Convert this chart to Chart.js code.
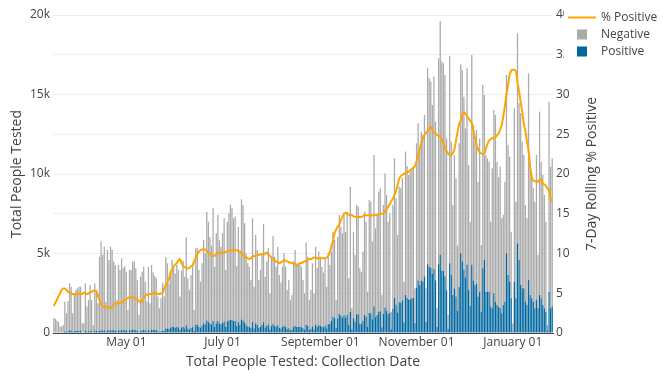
<!DOCTYPE html>
<html>
<head>
<meta charset="utf-8">
<title>Total People Tested</title>
<script src="https://cdn.jsdelivr.net/npm/chart.js@4.4.1/dist/chart.umd.min.js"></script>
<style>
    html, body { margin: 0; padding: 0; background: #ffffff; }
    #wrap { width: 663px; height: 373px; }
</style>
</head>
<body>
<div id="wrap"><canvas id="testsChart" width="663" height="373"></canvas></div>
<script>
// Daily tests by collection date, first day of the series
const startDate = '2020-03-16';

// Total people tested per day (top of each stacked bar)
const totalTested = [
    // Mar 16 - 31
    920, 900, 780, 700, 420, 400, 500, 1970, 1240, 2000, 3120, 2910, 1240, 2500, 2700, 2810,
    // Apr
    2910, 2910, 610, 610, 3120, 1660, 2080, 3020, 2080, 510, 3120, 2600, 1870, 4800, 5750,
    4900, 5430, 1970, 5220, 4590, 5430, 5220, 4490, 4280, 2080, 4280, 3960, 4700, 4070, 4200,
    // May
    3860, 1450, 3960, 3960, 4490, 4490, 4070, 3330, 1130, 3540, 3860, 4170, 3230, 1970, 4170, 1870,
    4280, 3800, 3590, 3440, 2290, 1550, 2180, 3170, 2290, 4760, 4380, 3120, 3860, 4590, 4070,
    // Jun
    3750, 4280, 3960, 2290, 3900, 4550, 3540, 6020, 3440, 2710, 3650, 4380, 1450, 5330, 5330,
    3960, 3230, 4380, 5850, 5010, 7630, 7000, 6020, 5500, 7840, 4170, 6270, 7420, 5850, 5430,
    // Jul
    6270, 7210, 3960, 7000, 7530, 8050, 7840, 7210, 7320, 4200, 6690, 5200, 8410, 8050, 6900, 5000,
    4380, 4170, 3330, 7210, 2910, 6160, 5220, 3330, 3960, 5010, 6860, 3540, 4490, 5330, 2490,
    // Aug
    4800, 6100, 4800, 4170, 5430, 3650, 3170, 4170, 5010, 4170, 2700, 3330, 2080, 2390, 4500, 5220,
    4380, 4280, 4380, 4170, 3330, 2490, 5680, 4800, 2080, 2700, 4380, 2490, 5430, 4070, 5120,
    // Sep
    4800, 4170, 3800, 4700, 2910, 5010, 4280, 5120, 6370, 5850, 2080, 6060, 7420, 6690, 6270,
    7420, 6370, 7630, 3440, 9200, 1550, 6370, 4910, 8050, 7950, 4070, 3860, 5120, 7630, 7000,
    // Oct
    2600, 8370, 8260, 5750, 11200, 6580, 7500, 8890, 9100, 2390, 8050, 10040, 8680, 7000, 7530, 1340,
    8050, 10990, 8470, 6160, 9200, 9100, 9730, 3230, 11410, 10500, 9940, 10150, 10360, 10460, 2810,
    // Nov
    11930, 13190, 11620, 12660, 12450, 13710, 2810, 16650, 16020, 15810, 14340, 16120, 13290, 1550, 17280,
    19630, 17070, 16960, 16230, 12240, 1130, 17400, 12040, 8050, 11200, 9730, 5500, 11930, 16900, 16540,
    // Dec
    14860, 12870, 16650, 10560, 7000, 17490, 13080, 12040, 12770, 9500, 12240, 5540, 15610, 14970, 11200, 10980,
    10770, 7000, 10360, 14020, 13710, 10770, 9800, 10460, 7210, 7420, 9520, 16230, 11820, 11090, 6370,
    // Jan 1 - 26
    600, 14130, 8260, 18850, 14450, 13820, 12040, 11200, 8050, 7210, 16330, 10360, 9940,
    9100, 8260, 11200, 4910, 13920, 10770, 9940, 8680, 7000, 500, 14550, 10460, 10980
];

// Positive results per day (blue part of each bar)
const positive = [
    // Mar 16 - 31
    30, 35, 35, 35, 25, 25, 30, 110, 70, 110, 160, 150, 60, 120, 130, 140,
    // Apr
    145, 140, 30, 30, 155, 80, 105, 155, 110, 27, 165, 135, 90, 150, 170,
    150, 170, 60, 170, 150, 170, 180, 170, 160, 80, 165, 155, 180, 170, 180,
    // May
    170, 65, 180, 180, 200, 200, 175, 140, 45, 140, 155, 185, 150, 95, 205, 90,
    210, 190, 185, 170, 110, 75, 110, 160, 130, 290, 280, 250, 330, 400, 370,
    // Jun
    320, 380, 360, 210, 340, 380, 290, 490, 280, 220, 310, 370, 130, 510, 530,
    400, 340, 460, 610, 530, 790, 710, 600, 540, 760, 400, 620, 750, 590, 550,
    // Jul
    630, 730, 400, 720, 780, 840, 820, 750, 760, 440, 690, 530, 850, 790, 660, 480,
    410, 390, 310, 690, 280, 600, 510, 330, 390, 500, 680, 350, 450, 530, 240,
    // Aug
    460, 570, 440, 380, 480, 320, 280, 380, 460, 380, 240, 300, 180, 210, 400, 450,
    370, 370, 390, 370, 300, 220, 520, 440, 190, 250, 410, 240, 520, 380, 480,
    // Sep
    450, 390, 360, 450, 280, 550, 560, 770, 1020, 940, 310, 910, 1190, 1070, 970,
    1110, 960, 1140, 500, 1340, 230, 930, 720, 1180, 1180, 600, 570, 760, 1130, 1040,
    // Oct
    390, 1260, 1240, 860, 1680, 990, 1130, 1340, 1370, 360, 1210, 1610, 1390, 1190, 1280, 240,
    1530, 2200, 1780, 1290, 1930, 1910, 2040, 680, 2400, 2200, 2090, 2130, 2180, 2200, 620,
    // Nov
    2860, 3300, 3000, 3290, 3240, 3560, 700, 4330, 4160, 4110, 3730, 4030, 3320, 390, 4320,
    4910, 3920, 3900, 3570, 2690, 250, 4380, 3650, 2390, 2800, 2300, 1400, 2900, 5010, 4500,
    // Dec
    4000, 3500, 4300, 2700, 1700, 4300, 3300, 3000, 3100, 2300, 2600, 1340, 4070, 4590, 2600, 2600,
    2600, 1660, 1550, 2500, 1970, 1760, 1650, 1550, 1240, 1760, 1970, 5010, 3650, 3230, 2180,
    // Jan 1 - 26
    100, 3230, 2180, 5640, 4590, 3020, 2810, 2810, 1970, 1760, 3330, 2390, 2180,
    1970, 1550, 2070, 1550, 2390, 2180, 1760, 1550, 1340, 150, 2600, 1550, 1660
];

// 7-day rolling % positive (right axis)
const pctPositive = [
    // Mar 16 - 31
    3.4, 3.8, 4.2, 4.6, 5.0, 5.4, 5.6, 5.6, 5.4, 5.2, 5.1, 5.0, 4.9, 4.9, 4.9, 4.9,
    // Apr
    5.0, 4.9, 4.9, 5.1, 5.0, 4.9, 5.0, 5.1, 5.2, 5.3, 5.3, 5.3, 4.7, 4.1, 3.6,
    3.4, 3.3, 3.3, 3.3, 3.2, 3.1, 3.3, 3.6, 3.7, 3.7, 3.8, 3.8, 3.8, 4.0, 4.2,
    // May
    4.3, 4.4, 4.5, 4.5, 4.5, 4.4, 4.3, 4.2, 4.0, 3.9, 4.0, 4.4, 4.7, 4.8, 4.9, 4.9,
    4.9, 5.0, 5.1, 5.0, 4.9, 4.9, 5.0, 5.0, 5.6, 6.0, 6.3, 6.8, 7.6, 8.0, 8.4,
    // Jun
    8.6, 8.8, 9.1, 9.3, 8.8, 8.4, 8.3, 8.2, 8.1, 8.2, 8.4, 8.5, 9.0, 9.5, 9.9,
    10.2, 10.4, 10.5, 10.5, 10.5, 10.3, 10.1, 10.0, 9.8, 9.7, 9.7, 9.9, 10.1, 10.1, 10.1,
    // Jul
    10.1, 10.1, 10.2, 10.3, 10.35, 10.4, 10.4, 10.4, 10.4, 10.4, 10.3, 10.2, 10.1, 9.8, 9.6, 9.5,
    9.4, 9.3, 9.4, 9.6, 9.7, 9.7, 9.8, 9.8, 9.9, 9.9, 9.9, 10.0, 10.1, 9.9, 9.7,
    // Aug
    9.5, 9.3, 9.1, 9.0, 8.9, 8.8, 8.9, 9.0, 9.2, 9.1, 9.0, 8.9, 8.85, 8.8, 8.8, 8.7,
    8.4, 8.6, 8.8, 8.8, 8.9, 9.0, 9.1, 9.2, 9.3, 9.3, 9.4, 9.5, 9.5, 9.4, 9.4,
    // Sep
    9.4, 9.4, 9.4, 9.4, 9.5, 9.7, 10.2, 10.9, 11.6, 12.5, 13.0, 13.4, 13.6, 14.2, 14.6,
    15.0, 15.1, 15.0, 14.9, 14.8, 14.8, 14.7, 14.6, 14.6, 14.6, 14.6, 14.6, 14.7, 14.8, 14.8,
    // Oct
    14.8, 14.8, 14.75, 14.8, 14.8, 14.85, 14.85, 14.9, 15.0, 15.0, 15.1, 15.3, 15.6, 15.9, 16.2, 16.6,
    16.9, 17.4, 17.9, 18.6, 19.4, 19.7, 19.9, 20.0, 20.1, 20.2, 20.3, 20.5, 20.6, 20.8, 21.0,
    // Nov
    21.6, 22.3, 23.2, 23.9, 24.5, 24.9, 25.2, 25.4, 25.7, 25.95, 25.6, 25.3, 25.1, 24.9, 24.8,
    24.7, 24.3, 23.9, 23.3, 22.9, 22.6, 22.4, 22.4, 22.6, 23.1, 24.2, 25.3, 26.3, 26.7, 27.5,
    // Dec
    27.8, 27.6, 27.3, 27.0, 26.7, 26.4, 25.5, 24.6, 23.6, 23.1, 22.7, 22.6, 22.5, 22.6, 23.2, 23.8,
    24.2, 24.4, 24.5, 24.6, 24.6, 24.9, 25.1, 25.6, 26.2, 27.3, 28.5, 30.0, 31.2, 32.5, 33.0,
    // Jan 1 - 26
    33.1, 33.1, 32.9, 31.5, 30.4, 29.0, 27.8, 26.3, 25.4, 24.1, 22.9, 21.0, 19.6,
    19.2, 19.1, 19.1, 19.0, 19.3, 19.3, 18.8, 18.7, 18.5, 18.2, 17.9, 16.9, 16.6
];

// Axis ticks shown on the date axis
const tickDates = ['2020-05-01', '2020-07-01', '2020-09-01', '2020-11-01', '2021-01-01'];
const tickLabels = ['May 01', 'July 01', 'September 01', 'November 01', 'January 01'];

const textColor = '#444444';
const fontFamily = '"Open Sans", "DejaVu Sans", sans-serif';

// Build one label per day from the start date
function buildDates(start, count) {
    const out = [];
    const d = new Date(start + 'T00:00:00Z');
    for (let i = 0; i < count; i++) {
        out.push(d.toISOString().slice(0, 10));
        d.setUTCDate(d.getUTCDate() + 1);
    }
    return out;
}

const dates = buildDates(startDate, totalTested.length);
const tickIndexes = tickDates.map(t => dates.indexOf(t));
// negative part of the stack = total minus positive
const negative = totalTested.map((t, i) => t - positive[i]);

// Right axis title and legend, drawn over the chart like the original
const overlayPlugin = {
    id: 'overlay',
    afterDraw: function(chart) {
        const { ctx, chartArea } = chart;

        ctx.save();
        ctx.translate(chartArea.right + 39, (chartArea.top + chartArea.bottom) / 2);
        ctx.rotate(-Math.PI / 2);
        ctx.font = '14px ' + fontFamily;
        ctx.fillStyle = textColor;
        ctx.textAlign = 'center';
        ctx.textBaseline = 'middle';
        ctx.fillText('7-Day Rolling % Positive', 0, 0);
        ctx.restore();

        // legend box with white background, it hides part of the top right ticks
        const lx = chartArea.right + 11;
        ctx.save();
        ctx.fillStyle = '#ffffff';
        ctx.fillRect(lx, 4, chart.width - lx, 60);
        ctx.font = '12px ' + fontFamily;
        ctx.textAlign = 'left';
        ctx.textBaseline = 'middle';

        const sets = chart.data.datasets;
        const order = [0, 2, 1];
        order.forEach((idx, row) => {
            const ds = sets[idx];
            const cy = 17.5 + row * 17;
            if (ds.type === 'line') {
                ctx.strokeStyle = ds.borderColor;
                ctx.lineWidth = 2;
                ctx.beginPath();
                ctx.moveTo(lx + 4, cy);
                ctx.lineTo(lx + 32, cy);
                ctx.stroke();
            } else {
                ctx.fillStyle = ds.backgroundColor;
                ctx.fillRect(lx + 13, cy - 5, 10, 10);
            }
            ctx.fillStyle = textColor;
            ctx.fillText(ds.label, lx + 37, cy);
        });
        ctx.restore();
    }
};

// Initialize chart
function initializeChart() {
    const ctx = document.getElementById('testsChart').getContext('2d');

    Chart.defaults.font.family = fontFamily;
    Chart.defaults.font.size = 12;
    Chart.defaults.color = textColor;

    new Chart(ctx, {
        type: 'bar',
        data: {
            labels: dates,
            datasets: [{
                type: 'line',
                label: '% Positive',
                data: pctPositive,
                yAxisID: 'y2',
                borderColor: '#ffa500',
                backgroundColor: '#ffa500',
                borderWidth: 2,
                pointRadius: 0,
                tension: 0.4,
                cubicInterpolationMode: 'monotone',
                order: 0
            }, {
                label: 'Positive',
                data: positive,
                yAxisID: 'y',
                backgroundColor: '#00679f',
                borderWidth: 0,
                barPercentage: 0.8,
                categoryPercentage: 1.0,
                order: 1
            }, {
                label: 'Negative',
                data: negative,
                yAxisID: 'y',
                backgroundColor: '#aaaaaa',
                borderWidth: 0,
                barPercentage: 0.8,
                categoryPercentage: 1.0,
                order: 1
            }]
        },
        options: {
            responsive: false,
            animation: false,
            layout: {
                padding: { top: 15, left: 0, right: 0, bottom: 0 }
            },
            plugins: {
                legend: { display: false },
                tooltip: { enabled: false }
            },
            scales: {
                x: {
                    stacked: true,
                    offset: true,
                    grid: { display: false, drawTicks: false },
                    border: { display: true, color: '#444444', width: 1, z: 1 },
                    ticks: {
                        autoSkip: false,
                        maxRotation: 0,
                        padding: 2,
                        callback: function(value) {
                            const k = tickIndexes.indexOf(value);
                            return k >= 0 ? tickLabels[k] : '';
                        }
                    },
                    afterBuildTicks: function(scale) {
                        scale.ticks = tickIndexes.map(v => ({ value: v }));
                    },
                    afterFit: function(scale) {
                        scale.height = 40;
                    },
                    title: {
                        display: true,
                        text: 'Total People Tested: Collection Date',
                        font: { size: 14 },
                        padding: { top: 0, bottom: 3 }
                    }
                },
                y: {
                    stacked: true,
                    position: 'left',
                    min: 0,
                    max: 20000,
                    grid: { color: '#eeeeee', drawTicks: false },
                    border: { display: false },
                    ticks: {
                        stepSize: 5000,
                        padding: 3,
                        callback: function(value) {
                            return value === 0 ? '0' : (value / 1000) + 'k';
                        }
                    },
                    afterFit: function(scale) {
                        scale.width = 53;
                    },
                    title: {
                        display: true,
                        text: 'Total People Tested',
                        font: { size: 14 },
                        padding: { top: 9, bottom: 0 }
                    }
                },
                y2: {
                    position: 'right',
                    min: 0,
                    max: 40,
                    grid: { color: '#eeeeee', drawTicks: false },
                    border: { display: false },
                    ticks: {
                        stepSize: 5,
                        padding: 3
                    },
                    afterFit: function(scale) {
                        scale.width = 110;
                    }
                }
            }
        },
        plugins: [overlayPlugin]
    });
}

document.addEventListener('DOMContentLoaded', initializeChart);
</script>
</body>
</html>
